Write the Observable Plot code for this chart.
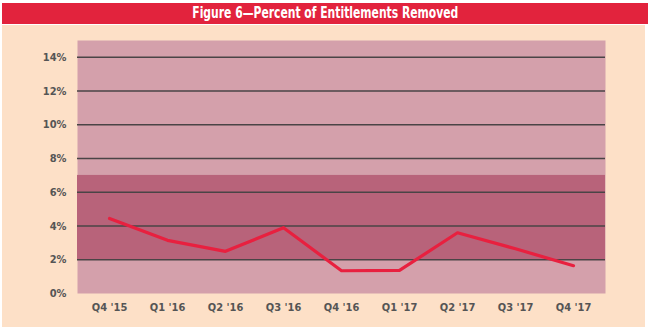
<!DOCTYPE html>
<html>
<head>
<meta charset="utf-8">
<script src="https://cdn.jsdelivr.net/npm/d3@7"></script>
<script src="https://cdn.jsdelivr.net/npm/@observablehq/plot@0.6"></script>
<style>
  html, body { margin: 0; padding: 0; background: #ffffff; width: 650px; height: 330px; overflow: hidden; }
  #title {
    position: absolute; left: 2px; top: 3px; width: 646px; height: 21px;
    background: #e2233d; color: #ffffff;
    font-family: "DejaVu Sans Condensed", "DejaVu Sans", sans-serif; font-weight: bold; font-size: 15px;
    line-height: 21px; text-align: center;
  }
  #title span { display: inline-block; transform: scaleX(0.8); transform-origin: center; white-space: nowrap; }
  #chart { position: absolute; left: 2px; top: 25px; width: 643px; height: 302px; background: #fde0c7; }
  #chart svg { display: block; }
</style>
</head>
<body>
<div id="title"><span>Figure 6—Percent of Entitlements Removed</span></div>
<div id="chart"></div>
<script>
const quarters = ["Q4 '15", "Q1 '16", "Q2 '16", "Q3 '16", "Q4 '16", "Q1 '17", "Q2 '17", "Q3 '17", "Q4 '17"];
const pctRemoved = [4.45, 3.15, 2.5, 3.9, 1.35, 1.37, 3.6, 2.65, 1.65];
const yTicks = [0, 2, 4, 6, 8, 10, 12, 14];
const gridLines = [2, 4, 6, 8, 10, 12, 14];
const bandRange = [{lo: 2, hi: 7}];

const data = quarters.map((q, i) => ({q, v: pctRemoved[i]}));

const chart = Plot.plot({
  width: 643,
  height: 302,
  marginTop: 15,
  marginBottom: 34,
  marginLeft: 75,
  marginRight: 40,
  style: {background: "transparent", fontFamily: "'DejaVu Sans Condensed', 'DejaVu Sans', sans-serif", fontSize: "11px", fontWeight: "bold", color: "#555555"},
  x: {type: "point", domain: quarters, padding: 0.5, label: null, tickSize: 0, tickPadding: 10},
  y: {domain: [0, 15], ticks: yTicks, tickFormat: d => d + "%", label: null, tickSize: 0, tickPadding: 11},
  marks: [
    Plot.frame({fill: "#d4a0ab", stroke: null}),
    Plot.rect(bandRange, {y1: "lo", y2: "hi", fill: "#b8637a"}),
    Plot.ruleY(gridLines, {stroke: "#4a4446", strokeWidth: 1.5}),
    Plot.line(data, {x: "q", y: "v", stroke: "#e8203f", strokeWidth: 3.2}),
    Plot.axisX({tickSize: 0, tickPadding: 10, label: null, fill: "#555555"}),
    Plot.axisY({ticks: yTicks, tickFormat: d => d + "%", tickSize: 0, tickPadding: 11, label: null, fill: "#555555"})
  ]
});
document.getElementById("chart").appendChild(chart);
</script>
</body>
</html>
